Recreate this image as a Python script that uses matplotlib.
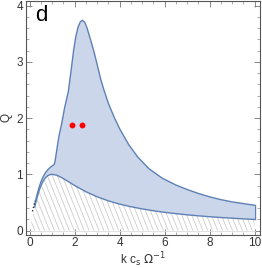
import matplotlib
matplotlib.use("Agg")
import matplotlib.pyplot as plt
from matplotlib.patches import Polygon
from matplotlib.ticker import MultipleLocator
import numpy as np

plt.rcParams["font.family"] = ["Liberation Sans", "DejaVu Sans"]

# upper boundary of the unstable band
k_up = [0.22, 0.30, 0.40, 0.50, 0.60, 0.70, 0.80, 0.90, 1.00, 1.08, 1.12, 1.16,
        1.22, 1.30, 1.42, 1.55, 1.72, 1.85, 1.95, 2.05, 2.15, 2.25, 2.34, 2.45,
        2.55, 2.70, 2.85, 3.00, 3.15, 3.30, 3.50, 3.75, 4.00, 4.40, 4.80, 5.30,
        5.90, 6.50, 7.00, 7.50, 8.00, 8.50, 9.00, 9.50, 10.0]
q_up = [0.46, 0.60, 0.75, 0.87, 0.96, 1.03, 1.08, 1.12, 1.15, 1.17, 1.22, 1.32,
        1.48, 1.68, 1.90, 2.18, 2.48, 2.88, 3.20, 3.45, 3.62, 3.71, 3.74, 3.70,
        3.60, 3.40, 3.19, 2.95, 2.70, 2.50, 2.26, 2.02, 1.81, 1.53, 1.31, 1.10,
        0.93, 0.81, 0.73, 0.66, 0.60, 0.55, 0.51, 0.48, 0.45]

# lower boundary (marginal stability curve)
k_lo = [0.00, 0.10, 0.22, 0.30, 0.40, 0.50, 0.60, 0.70, 0.80, 0.90, 1.00, 1.20,
        1.40, 1.60, 1.80, 2.00, 2.50, 3.00, 3.50, 4.00, 4.50, 5.00, 5.50, 6.00,
        6.50, 7.00, 7.50, 8.00, 8.50, 9.00, 9.50, 10.0]
q_lo = [0.00, 0.20, 0.42, 0.55, 0.69, 0.80, 0.88, 0.94, 0.976, 0.994, 1.00, 0.984,
        0.946, 0.899, 0.849, 0.80, 0.69, 0.60, 0.528, 0.47, 0.424, 0.385, 0.352, 0.324,
        0.301, 0.28, 0.262, 0.246, 0.232, 0.22, 0.208, 0.198]

# short dotted piece near the origin
k_dot = [0.12, 0.24]
q_dot = [0.34, 0.53]

# marked points
k_pts = [1.87, 2.33]
q_pts = [1.88, 1.88]

line_c = "#5e81b5"
fill_c = "#ccd6ea"

fig = plt.figure(figsize=(2.62, 2.68), dpi=100)
ax = fig.add_axes([0.099, 0.125, 0.893, 0.871])

# hatched stable region below the lower curve
hatch_xy = list(zip(k_lo, q_lo)) + [(k_lo[-1], 0.0), (0.0, 0.0)]
hatch_poly = Polygon(hatch_xy, closed=True, facecolor="none", edgecolor="none")
ax.add_patch(hatch_poly)
for c in np.arange(0.0, 11.0, 0.22):
    ln, = ax.plot([c - 1.2, c + 0.2], [1.2, -0.2], color="#cccccc", lw=0.6)
    ln.set_clip_path(hatch_poly)
ax.plot([0, 10], [0, 0], color="#dddddd", lw=0.6)

# unstable band between the two curves
i0 = k_lo.index(0.22)
band_xy = list(zip(k_up, q_up)) + list(zip(k_lo[i0:], q_lo[i0:]))[::-1]
ax.add_patch(Polygon(band_xy, closed=True, facecolor=fill_c, edgecolor="none"))
ax.plot(k_up, q_up, color=line_c, lw=1.0)
ax.plot(k_lo[i0:], q_lo[i0:], color=line_c, lw=1.0)
ax.plot([k_up[-1], k_lo[-1]], [q_up[-1], q_lo[-1]], color=line_c, lw=1.0)
ax.plot(k_dot, q_dot, color="#333333", lw=1.0, ls=(0, (1, 1.5)))

ax.scatter(k_pts, q_pts, s=18, color="red", zorder=5, linewidths=0)

ax.set_xlim(-0.17, 10.24)
ax.set_ylim(-0.07, 4.08)
ax.xaxis.set_major_locator(MultipleLocator(2))
ax.xaxis.set_minor_locator(MultipleLocator(0.5))
ax.yaxis.set_major_locator(MultipleLocator(1))
ax.yaxis.set_minor_locator(MultipleLocator(0.2))
ax.tick_params(which="both", direction="in", top=True, right=True,
               color="#888888", labelsize=8.5, labelcolor="#333333", pad=2)
ax.tick_params(which="major", length=4, width=0.7)
ax.tick_params(which="minor", length=2, width=0.5)
for s in ax.spines.values():
    s.set_color("#555555")
    s.set_linewidth(0.8)

ax.set_xlabel(r"k c$_\mathrm{s}$ $\Omega^{-1}$", fontsize=8.5, color="#333333", labelpad=1)
ax.set_ylabel("Q", fontsize=8.5, color="#333333", labelpad=3)
ax.text(0.04, 0.985, "d", transform=ax.transAxes, fontsize=16, va="top", ha="left")

fig.savefig("out.png", dpi=100)
